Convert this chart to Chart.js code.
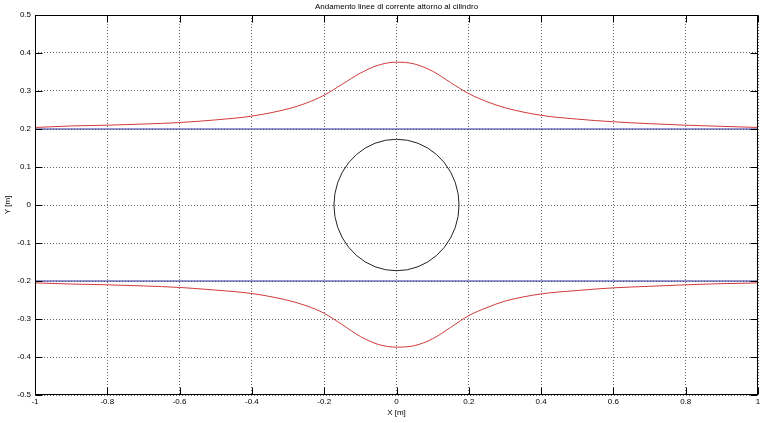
<!DOCTYPE html>
<html><head><meta charset="utf-8">
<script src="https://cdn.jsdelivr.net/npm/chart.js@4"></script>
<style>html,body{margin:0;padding:0;background:#fff}#wrap{width:760px;height:423px}</style>
</head><body><div id="wrap"><canvas id="c" width="760" height="423"></canvas></div>
<script>
const titleText = "Andamento linee di corrente attorno al cilindro";
const xAxisTitle = "X [m]";
const yAxisTitle = "Y [m]";
const xTickValues = [-1, -0.8, -0.6, -0.4, -0.2, 0, 0.2, 0.4, 0.6, 0.8, 1];
const xTickLabels = ["-1", "-0.8", "-0.6", "-0.4", "-0.2", "0", "0.2", "0.4", "0.6", "0.8", "1"];
const yTickValues = [-0.5, -0.4, -0.3, -0.2, -0.1, 0, 0.1, 0.2, 0.3, 0.4, 0.5];
const yTickLabels = ["-0.5", "-0.4", "-0.3", "-0.2", "-0.1", "0", "0.1", "0.2", "0.3", "0.4", "0.5"];

const streamX = [-1, -0.9, -0.8, -0.7, -0.6, -0.5, -0.4, -0.3, -0.25, -0.2, -0.15, -0.1, -0.05, 0, 0.05, 0.1, 0.15, 0.2, 0.25, 0.3, 0.4, 0.5, 0.6, 0.7, 0.8, 0.9, 1];
const upperY = [0.204, 0.208, 0.210, 0.213, 0.217, 0.224, 0.234, 0.253, 0.268, 0.289, 0.318, 0.347, 0.368, 0.376, 0.371, 0.352, 0.322, 0.293, 0.272, 0.256, 0.236, 0.226, 0.219, 0.214, 0.210, 0.207, 0.204];
const lowerY = [-0.205, -0.208, -0.210, -0.213, -0.217, -0.224, -0.233, -0.251, -0.265, -0.285, -0.315, -0.346, -0.367, -0.374, -0.370, -0.352, -0.322, -0.291, -0.270, -0.253, -0.234, -0.225, -0.218, -0.214, -0.210, -0.207, -0.205];

const blueX = [-1, 1];
const blueUpperY = [0.2, 0.2];
const blueLowerY = [-0.2, -0.2];

const circleX = [0.173, 0.1704, 0.1626, 0.1498, 0.1325, 0.1112, 0.0865, 0.0592, 0.0300, 0, -0.0300, -0.0592, -0.0865, -0.1112, -0.1325, -0.1498, -0.1626, -0.1704, -0.173, -0.1704, -0.1626, -0.1498, -0.1325, -0.1112, -0.0865, -0.0592, -0.0300, 0, 0.0300, 0.0592, 0.0865, 0.1112, 0.1325, 0.1498, 0.1626, 0.1704, 0.173];
const circleY = [0, 0.0300, 0.0592, 0.0865, 0.1112, 0.1325, 0.1498, 0.1626, 0.1704, 0.173, 0.1704, 0.1626, 0.1498, 0.1325, 0.1112, 0.0865, 0.0592, 0.0300, 0, -0.0300, -0.0592, -0.0865, -0.1112, -0.1325, -0.1498, -0.1626, -0.1704, -0.173, -0.1704, -0.1626, -0.1498, -0.1325, -0.1112, -0.0865, -0.0592, -0.0300, 0];

const pts = (xs, ys) => xs.map((x, i) => ({x: x, y: ys[i]}));
const FONT = "'Liberation Sans', Arial, sans-serif";
Chart.defaults.font.family = FONT;
Chart.defaults.font.size = 8;
Chart.defaults.color = '#000';

const boxPlugin = {
  id: 'box',
  afterDatasetsDraw(chart) {
    const {ctx, chartArea: a, scales: {x, y}} = chart;
    ctx.save();
    ctx.strokeStyle = '#000';
    ctx.lineWidth = 1;
    const L = Math.round(a.left) + 0.5, R = Math.round(a.right) - 0.5;
    const T = Math.round(a.top) + 0.5, B = Math.round(a.bottom) - 0.5;
    ctx.strokeRect(L, T, R - L, B - T);
    ctx.beginPath();
    xTickValues.forEach(v => {
      const p = Math.round(x.getPixelForValue(v)) + 0.5;
      ctx.moveTo(p, B); ctx.lineTo(p, B - 7);
      ctx.moveTo(p, T); ctx.lineTo(p, T + 7);
    });
    yTickValues.forEach(v => {
      const p = Math.round(y.getPixelForValue(v)) + 0.5;
      ctx.moveTo(L, p); ctx.lineTo(L + 7, p);
      ctx.moveTo(R, p); ctx.lineTo(R - 7, p);
    });
    ctx.stroke();
    ctx.fillStyle = '#000';
    ctx.font = '8px ' + FONT;
    ctx.textAlign = 'center';
    ctx.textBaseline = 'middle';
    ctx.fillText(titleText, (a.left + a.right) / 2, 7);
    ctx.restore();
  }
};

new Chart(document.getElementById('c'), {
  type: 'scatter',
  data: {
    datasets: [
      {data: pts(streamX, upperY), showLine: true, borderColor: '#d03a3a', borderWidth: 1, pointRadius: 0, cubicInterpolationMode: 'monotone'},
      {data: pts(streamX, lowerY), showLine: true, borderColor: '#d03a3a', borderWidth: 1, pointRadius: 0, cubicInterpolationMode: 'monotone'},
      {data: pts(blueX, blueUpperY), showLine: true, borderColor: '#2e2e9e', borderWidth: 1, pointRadius: 0},
      {data: pts(blueX, blueLowerY), showLine: true, borderColor: '#2e2e9e', borderWidth: 1, pointRadius: 0},
      {data: pts(circleX, circleY), showLine: true, borderColor: '#222', borderWidth: 1, pointRadius: 0, tension: 0}
    ]
  },
  options: {
    responsive: false,
    devicePixelRatio: 1,
    animation: false,
    layout: {padding: {top: 15, right: 2, left: 0, bottom: 0}},
    plugins: {legend: {display: false}, tooltip: {enabled: false}},
    scales: {
      x: {
        type: 'linear', min: -1, max: 1,
        afterBuildTicks: s => { s.ticks = xTickValues.map(v => ({value: v})); },
        ticks: {callback: (v, i) => xTickLabels[i], padding: 2, maxRotation: 0, autoSkip: false, font: {size: 8}},
        grid: {color: '#666', lineWidth: 1, drawTicks: false, tickLength: 0},
        border: {display: false, dash: [1, 2]},
        title: {display: true, text: xAxisTitle, padding: {top: 0, bottom: 5}, font: {size: 8}},
        afterFit: s => { s.height = 28; s.paddingLeft = 0; s.paddingRight = 0; }
      },
      y: {
        type: 'linear', min: -0.5, max: 0.5,
        afterBuildTicks: s => { s.ticks = yTickValues.map(v => ({value: v})); },
        ticks: {callback: (v, i) => yTickLabels[i], padding: 4, autoSkip: false, font: {size: 8}},
        grid: {color: '#666', lineWidth: 1, drawTicks: false, tickLength: 0},
        border: {display: false, dash: [1, 2]},
        title: {display: true, text: yAxisTitle, padding: {top: 3, bottom: 0}, font: {size: 8}},
        afterFit: s => { s.width = 35; s.paddingTop = 0; s.paddingBottom = 0; }
      }
    }
  },
  plugins: [boxPlugin]
});
</script>
</body></html>
